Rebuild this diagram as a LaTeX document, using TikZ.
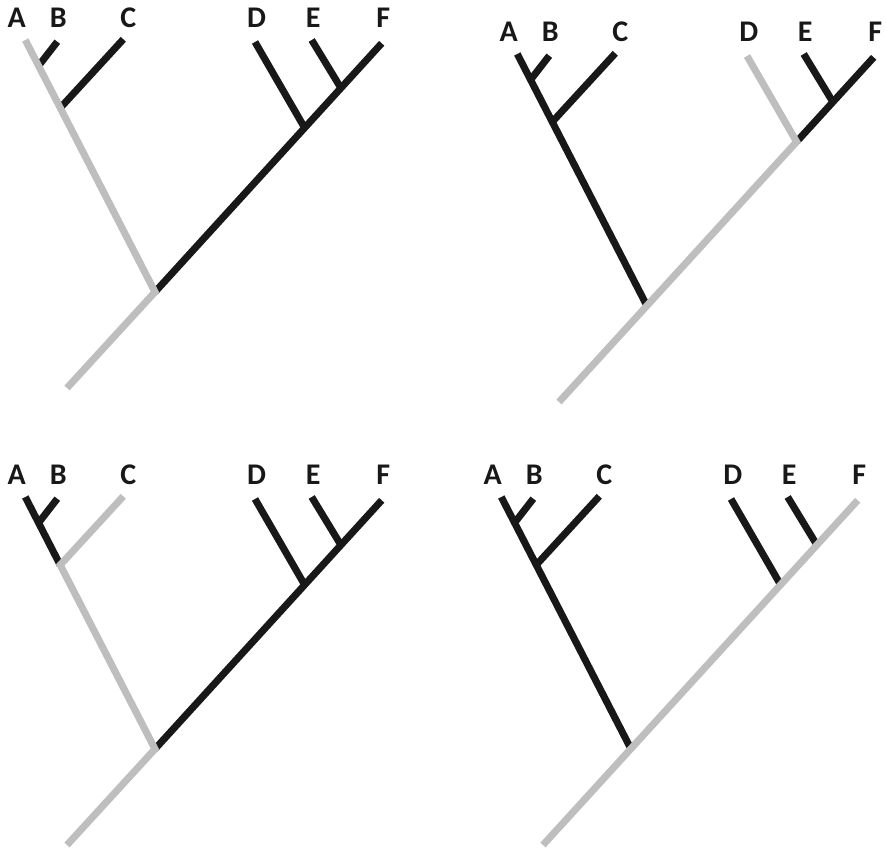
\documentclass[tikz,border=0pt]{standalone}
\usepackage{fontspec}
\setmainfont{Carlito}
\definecolor{treegrey}{RGB}{190,190,190}
\definecolor{treeblack}{RGB}{24,24,24}
\newcommand\mktreecoords{%
  \coordinate (R0) at (67,388);
  \coordinate (R)  at (155,292);
  \coordinate (At) at (25.3,40);
  \coordinate (Bj) at (38.5,65.9);
  \coordinate (Bt) at (57.3,41.7);
  \coordinate (Cj) at (60.2,108);
  \coordinate (Ct) at (123.3,39.3);
  \coordinate (Dj) at (304.6,127.8);
  \coordinate (Dt) at (255,42);
  \coordinate (Ej) at (340.9,88);
  \coordinate (Et) at (311.7,40);
  \coordinate (Ft) at (381.7,43.3);
  \node[taxon] (LA) at (16.7,27.8) {A};
  \node[taxon] (LB) at (58.3,27.8) {B};
  \node[taxon] (LC) at (128.3,27.8) {C};
  \node[taxon] (LD) at (256.7,27.8) {D};
  \node[taxon] (LE) at (313.3,27.8) {E};
  \node[taxon] (LF) at (383.3,27.8) {F};
}
\begin{document}
\begin{tikzpicture}[x=0.75pt,y=-0.75pt,
  taxon/.style={anchor=base,inner sep=0pt,font=\fontsize{22.5}{22.5}\selectfont\bfseries,text=treeblack},
  blk/.style={draw=treeblack,line width=5.3pt,line cap=butt,line join=miter},
  gry/.style={draw=treegrey,line width=5.3pt,line cap=butt,line join=miter}]
\useasboundingbox (0,0) rectangle (886,852);
% Panel 1 (top left)
\begin{scope}
  \mktreecoords
  \draw[blk] (Bj) -- (Bt);
  \draw[blk] (Cj) -- (Ct);
  \draw[blk] (R) -- (Ft);
  \draw[blk] (Dj) -- (Dt);
  \draw[blk] (Ej) -- (Et);
  \draw[gry] (R0) -- (R) -- (At);
\end{scope}
% Panel 2 (top right)
\begin{scope}[shift={(492,14)}]
  \mktreecoords
  \draw[blk] (R) -- (At);
  \draw[blk] (Bj) -- (Bt);
  \draw[blk] (Cj) -- (Ct);
  \draw[blk] (Dj) -- (Ft);
  \draw[blk] (Ej) -- (Et);
  \draw[gry] (R0) -- (Dj) -- (Dt);
\end{scope}
% Panel 3 (bottom left)
\begin{scope}[shift={(0,457)}]
  \mktreecoords
  \draw[blk] (Cj) -- (At);
  \draw[blk] (Bj) -- (Bt);
  \draw[blk] (R) -- (Ft);
  \draw[blk] (Dj) -- (Dt);
  \draw[blk] (Ej) -- (Et);
  \draw[gry] (R0) -- (R) -- (Cj) -- (Ct);
\end{scope}
% Panel 4 (bottom right)
\begin{scope}[shift={(476,457)}]
  \mktreecoords
  \draw[blk] (R) -- (At);
  \draw[blk] (Bj) -- (Bt);
  \draw[blk] (Cj) -- (Ct);
  \draw[blk] (Dj) -- (Dt);
  \draw[blk] (Ej) -- (Et);
  \draw[gry] (R0) -- (Ft);
\end{scope}
\end{tikzpicture}
\end{document}
